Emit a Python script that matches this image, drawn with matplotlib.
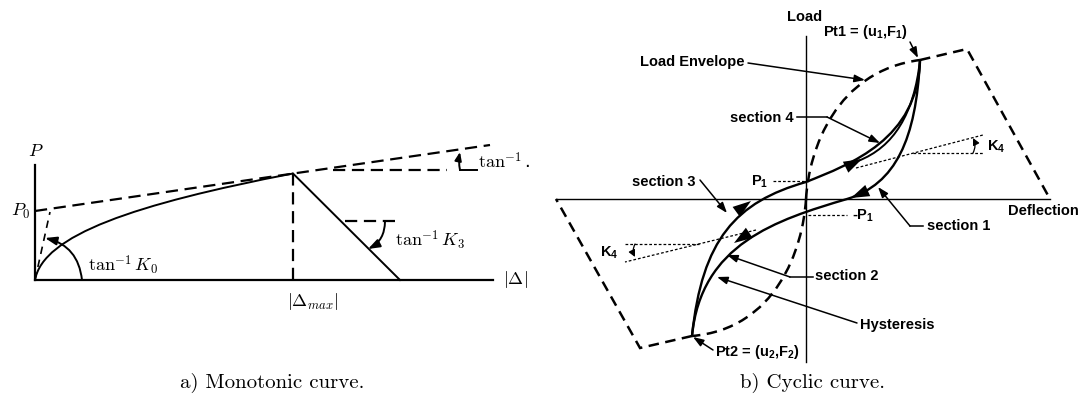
import matplotlib
matplotlib.use("Agg")
import matplotlib.pyplot as plt
from matplotlib.path import Path
from matplotlib.patches import PathPatch, FancyArrowPatch

plt.rcParams['mathtext.fontset'] = 'custom'
plt.rcParams['mathtext.rm'] = 'Liberation Sans:bold'
plt.rcParams['mathtext.it'] = 'Liberation Sans:bold'
plt.rcParams['mathtext.bf'] = 'Liberation Sans:bold'

# ---------- a) monotonic curve (units: pixels from the axis corner)
mono_axis_end = [458, 115]          # |Δ| end, P end
mono_p0 = 69
mono_envelope = [[0, 69], [455, 135]]
mono_peak = [258, 106.5]
mono_drop_end = [365, 0]
mono_k0_line = [[0, 0], [15, 68]]
mono_curve = [[0, 0], [8, 45], [100, 76], [258, 106.5]]   # bezier ctrl pts
mono_k3_flat = [[310, 58.6], [363, 58.6]]
mono_k3_arc = [[350, 58.6], [333, 31]]
mono_k0_arc = [[47, 0], [10, 42]]
mono_top_flat = [[298, 110], [412, 110]]
mono_top_foot = [[425, 110], [442, 110]]
mono_top_arrow = [[425, 110], [425, 128]]

# ---------- b) cyclic curve (units: pixels from the axis crossing)
cyc_u_axis = [-250, 244]
cyc_f_axis = [-163, 163]
env_pos = [[0, 0], [3, 50], [30, 128], [114, 139]]
env_pos_tail = [[114, 139], [161, 150], [244, 0]]
env_neg = [[0, 0], [-3, -50], [-30, -130], [-114, -137]]
env_neg_tail = [[-114, -137], [-166, -149], [-250, 0]]
load_branch = [[-114, -137], [-104, -40], [-70, -3], [0, 17],
               [45, 35], [112, 60], [114, 139]]
inner_branch = [[52, 38], [88, 52], [108, 85], [114, 139]]
unload_branch = [[114, 139], [110, 60], [90, 15], [41, 0],
                 [-30, -21], [-105, -45], [-114, -137]]
heads = [[[-70, -13], [-55, -2]], [[38, 31], [56, 40]],
         [[63, 9], [45, 1]], [[-54, -32], [-72, -44]]]
p1_dots = [[-33, 18], [0, 18]]
mp1_dots = [[2, -16], [41, -16]]
k4r_slope = [[50, 31], [177, 64]]
k4r_flat = [[107, 46], [177, 46]]
k4l_slope = [[-50, -31], [-181, -63]]
k4l_flat = [[-107, -45], [-183, -45]]

leaders = {
    'Load Envelope': [[-58, 136], [59, 119]],
    'Pt1': [[104, 157], [112, 141]],
    'section 4': [[-9, 82], [21, 82], [74, 56]],
    'section 3': [[-106, 19], [-79, -14]],
    'section 1': [[117, -27], [104, -27], [72, 12]],
    'section 2': [[7, -78], [-16, -78], [-79, -56]],
    'Hysteresis': [[51, -124], [-89, -78]],
    'Pt2': [[-93, -151], [-113, -138]],
}

fig = plt.figure(figsize=(10.82, 4.03), dpi=100)


def bezier(ax, pts, **kw):
    codes = [Path.MOVETO] + [Path.CURVE4] * (len(pts) - 1)
    ax.add_patch(PathPatch(Path(pts, codes), fill=False, **kw))


def poly(ax, pts, **kw):
    codes = [Path.MOVETO] + [Path.LINETO] * (len(pts) - 1)
    ax.add_patch(PathPatch(Path(pts, codes), fill=False, **kw))


def arrow(ax, a, b, rad=0.0, lw=1.0, hl=0.7, hw=0.25, ms=10):
    ax.add_patch(FancyArrowPatch(a, b, connectionstyle=f'arc3,rad={rad}',
                                 arrowstyle=f'-|>,head_length={hl},head_width={hw}',
                                 mutation_scale=ms, lw=lw, color='black',
                                 shrinkA=0, shrinkB=0))


# ===================== left panel
ax1 = fig.add_axes([0, 0, 540 / 1082, 1])
ax1.set_xlim(-35, 505)
ax1.set_ylim(-123, 280)
ax1.axis('off')

ax1.plot([0, mono_axis_end[0]], [0, 0], color='k', lw=1.6)
ax1.plot([0, 0], [0, mono_axis_end[1]], color='k', lw=1.6)
dash1 = (0, (5.5, 3))
ax1.plot(*zip(*mono_envelope), color='k', lw=1.6, ls=dash1)
ax1.plot([mono_peak[0], mono_peak[0]], [0, mono_peak[1]], color='k', lw=1.6, ls=dash1)
ax1.plot([mono_peak[0], mono_drop_end[0]], [mono_peak[1], mono_drop_end[1]], color='k', lw=1.4)
ax1.plot(*zip(*mono_k0_line), color='k', lw=1.2, ls=(0, (4.5, 3.5)))
bezier(ax1, mono_curve, lw=1.4, color='k')
ax1.plot(*zip(*mono_k3_flat), color='k', lw=1.6, ls=dash1)
ax1.plot(*zip(*mono_top_flat), color='k', lw=1.6, ls=dash1)
ax1.plot(*zip(*mono_top_foot), color='k', lw=1.4)
arrow(ax1, *mono_k0_arc, rad=0.35, lw=1.4)
arrow(ax1, *mono_k3_arc, rad=-0.3, lw=1.4)
arrow(ax1, *mono_top_arrow, rad=-0.1, lw=1.4, hl=0.5, hw=0.2)

cm = dict(math_fontfamily='cm', fontsize=13, color='k')
ax1.text(1, 129, r'$P$', ha='center', va='center', **cm)
ax1.text(-5, mono_p0, r'$P_0$', ha='right', va='center', **cm)
ax1.text(53, 15, r'$\tan^{-1}K_0$', ha='left', va='center', **cm)
ax1.text(360, 40, r'$\tan^{-1}K_3$', ha='left', va='center', **cm)
ax1.text(443, 118, r'$\tan^{-1}$.', ha='left', va='center', **cm)
ax1.text(480, 0, r'$|\Delta|$', ha='center', va='center', **cm)
ax1.text(mono_peak[0] + 20, -21, r'$|\Delta_{max}|$', ha='center', va='center', **cm)
ax1.text(237, -103, 'a) Monotonic curve.', ha='center', va='center',
         fontfamily='cmr10', fontsize=15)

# ===================== right panel
ax2 = fig.add_axes([540 / 1082, 0, 542 / 1082, 1])
ax2.set_xlim(-266, 276)
ax2.set_ylim(-204, 199)
ax2.axis('off')

ax2.plot(cyc_u_axis, [0, 0], color='k', lw=1.0)
ax2.plot([0, 0], cyc_f_axis, color='k', lw=1.0)

dash2 = (0, (4.2, 2.6))
for seg in (env_pos, env_neg):
    bezier(ax2, seg, lw=1.8, color='k', ls=dash2)
for seg in (env_pos_tail, env_neg_tail):
    poly(ax2, seg, lw=1.8, color='k', ls=dash2)

bezier(ax2, load_branch, lw=1.7, color='k')
bezier(ax2, inner_branch, lw=1.4, color='k')
bezier(ax2, unload_branch, lw=1.7, color='k')
for tail, tip in heads:
    arrow(ax2, tail, tip, lw=0, hl=1.2, hw=0.4, ms=11)

dots = (0, (2.2, 1.6))
for seg in (p1_dots, mp1_dots, k4r_slope, k4r_flat, k4l_slope, k4l_flat):
    ax2.plot(*zip(*seg), color='k', lw=0.9, ls=dots)
arrow(ax2, (167, 46), (167, 61), rad=0.25, lw=0.9, hl=0.4, hw=0.2)
arrow(ax2, (-171, -45), (-171, -58), rad=0.25, lw=0.9, hl=0.4, hw=0.2)

for name, pts in leaders.items():
    if len(pts) > 2:
        ax2.plot(*zip(*pts[:-1]), color='k', lw=1.1)
    arrow(ax2, pts[-2], pts[-1], lw=1.1, hl=0.7, hw=0.25, ms=9)

sf = dict(fontfamily='Liberation Sans', fontweight='bold', fontsize=10.5, color='k')
ax2.text(-1, 182, 'Load', ha='center', va='center', **sf)
ax2.text(-62, 137, 'Load Envelope', ha='right', va='center', **sf)
ax2.text(59, 167, r'Pt1 = (u$_1$,F$_1$)', ha='center', va='center', **sf)
ax2.text(-12, 81, 'section 4', ha='right', va='center', **sf)
ax2.text(-111, 17, 'section 3', ha='right', va='center', **sf)
ax2.text(121, -27, 'section 1', ha='left', va='center', **sf)
ax2.text(9, -77, 'section 2', ha='left', va='center', **sf)
ax2.text(54, -126, 'Hysteresis', ha='left', va='center', **sf)
ax2.text(-91, -153, r'Pt2 = (u$_2$,F$_2$)', ha='left', va='center', **sf)
ax2.text(237, -12, 'Deflection', ha='center', va='center', **sf)
ax2.text(-38, 17, r'P$_1$', ha='right', va='center', **sf)
ax2.text(46, -17, r'-P$_1$', ha='left', va='center', **sf)
ax2.text(181, 52, r'K$_4$', ha='left', va='center', **sf)
ax2.text(-188, -54, r'K$_4$', ha='right', va='center', **sf)
ax2.text(7, -184, 'b) Cyclic curve.', ha='center', va='center',
         fontfamily='cmr10', fontsize=15)

fig.savefig('out.png', dpi=100)
